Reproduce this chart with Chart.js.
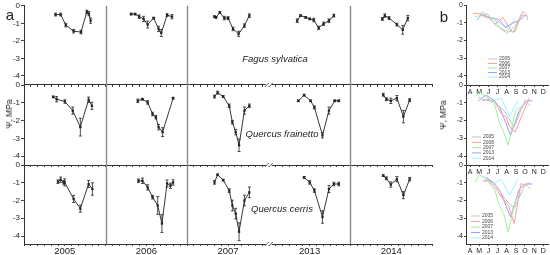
<!DOCTYPE html>
<html>
<head>
<meta charset="utf-8">
<script src="https://cdn.jsdelivr.net/npm/chart.js@4.4.0/dist/chart.umd.min.js"></script>
<style>
html, body { margin: 0; padding: 0; background: #fff; }
#wrap { position: relative; width: 550px; height: 255px; overflow: hidden; font-family: "Liberation Sans", Arial, sans-serif; color: #222; }
#wrap canvas { position: absolute; left: 0; top: 0; }
.lbl { position: absolute; white-space: nowrap; transform: translate(-50%, -50%); }
.sp { font-style: italic; font-size: 9.5px; color: #222; }
.ax { font-size: 8.5px; transform: translate(-50%, -50%) rotate(-90deg); }
</style>
</head>
<body>
<div id="wrap">
  <canvas id="a1" width="550" height="255"></canvas>
  <canvas id="a2" width="550" height="255"></canvas>
  <canvas id="a3" width="550" height="255"></canvas>
  <canvas id="b1" width="550" height="255"></canvas>
  <canvas id="b2" width="550" height="255"></canvas>
  <canvas id="b3" width="550" height="255"></canvas>
  <div class="lbl" style="left:10px;top:14px;font-size:15px">a</div>
  <div class="lbl" style="left:444px;top:16px;font-size:15px">b</div>
  <div class="lbl ax" style="left:9px;top:114px">Ψ, MPa</div>
  <div class="lbl ax" style="left:443px;top:115px">Ψ, MPa</div>
  <div class="lbl sp" style="left:275px;top:58px">Fagus sylvatica</div>
  <div class="lbl sp" style="left:282px;top:133px">Quercus frainetto</div>
  <div class="lbl sp" style="left:282px;top:208px">Quercus cerris</div>
</div>
<script>
// ── données ─────────────────────────────────────────────
const YEARS = ['2005', '2006', '2007', '2013', '2014'];
const MONTHS = ['A', 'M', 'J', 'J', 'A', 'S', 'O', 'N', 'D'];
const MONTH_MID = [105, 135, 166, 196, 227, 258, 288, 319, 349];
const Y_TICKS = [0, -1, -2, -3, -4];
const YEAR_COLORS = ['#c4c4c4', '#ff9c9c', '#9ef09e', '#9c9cff', '#9cf2ff'];

// Fagus sylvatica (jour de l'année, Ψ, erreur)
const fagusDays = [
  [141, 164, 187, 222, 255, 281, 290, 298],
  [114, 132, 150, 170, 188, 215, 237, 249, 275, 297],
  [122, 129, 146, 166, 183, 205, 230, 256, 278],
  [127, 142, 165, 183, 201, 223, 245, 269, 291],
  [143, 154, 173, 208, 234, 257]
];
const fagusPsi = [
  [-0.5, -0.5, -1.1, -1.45, -1.5, -0.35, -0.45, -0.85],
  [-0.47, -0.47, -0.62, -0.75, -1.07, -0.7, -1.32, -1.55, -0.53, -0.62],
  [-0.62, -0.66, -0.38, -0.7, -0.7, -1.32, -1.6, -1.13, -0.56],
  [-0.85, -0.56, -0.66, -0.75, -0.81, -1.26, -1.03, -0.85, -0.56],
  [-0.75, -0.56, -0.7, -1.07, -1.37, -0.7]
];
const fagusErr = [
  [0.08, 0.08, 0.1, 0.1, 0.1, 0.1, 0.12, 0.15],
  [0.05, 0.05, 0.1, 0.15, 0.2, 0.05, 0.15, 0.2, 0.08, 0.12],
  [0.05, 0.05, 0.05, 0.1, 0.08, 0.1, 0.15, 0.1, 0.1],
  [0.1, 0.05, 0.05, 0.05, 0.1, 0.1, 0.1, 0.1, 0.08],
  [0.08, 0.1, 0.08, 0.08, 0.25, 0.15]
];

// Quercus frainetto
const frainettoDays = [
  [131, 146, 183, 218, 252, 289, 304],
  [144, 165, 188, 210, 225, 237, 255, 302],
  [122, 136, 161, 188, 202, 217, 232, 256, 278],
  [132, 158, 187, 204, 240, 269, 295, 313],
  [147, 161, 181, 208, 237, 265]
];
const frainettoPsi = [
  [-0.67, -0.8, -0.93, -1.44, -2.37, -0.83, -1.17],
  [-0.89, -0.8, -0.98, -1.63, -1.81, -2.37, -2.65, -0.74],
  [-0.65, -0.43, -0.65, -1.17, -2.09, -2.65, -3.39, -1.44, -1.17],
  [-0.89, -0.57, -0.89, -1.26, -2.83, -1.44, -0.89, -0.89],
  [-0.55, -0.8, -0.89, -0.74, -1.78, -0.85]
];
const frainettoErr = [
  [0.05, 0.15, 0.1, 0.2, 0.5, 0.15, 0.2],
  [0.1, 0.05, 0.1, 0.1, 0.1, 0.15, 0.25, 0.05],
  [0.08, 0.08, 0.05, 0.1, 0.1, 0.15, 0.35, 0.2, 0.1],
  [0.05, 0.05, 0.05, 0.08, 0.15, 0.2, 0.05, 0.05],
  [0.08, 0.08, 0.15, 0.15, 0.35, 0.08]
];

// Quercus cerris
const cerrisDays = [
  [152, 164, 177, 182, 222, 252, 289, 306],
  [147, 165, 188, 210, 233, 252, 275, 290, 302],
  [122, 136, 161, 188, 202, 217, 232, 256, 278],
  [158, 183, 204, 240, 269, 291, 313],
  [147, 161, 181, 208, 237, 265]
];
const cerrisPsi = [
  [-0.94, -0.83, -0.98, -0.98, -1.91, -2.46, -1.07, -1.35],
  [-0.89, -0.89, -1.26, -1.81, -2.28, -3.3, -1.04, -1.17, -0.98],
  [-0.98, -0.55, -0.85, -1.44, -2.28, -2.74, -3.76, -2.0, -1.54],
  [-0.7, -0.98, -1.44, -2.93, -1.35, -1.07, -1.07],
  [-0.6, -0.75, -1.1, -0.8, -1.7, -0.8]
];
const cerrisErr = [
  [0.1, 0.15, 0.1, 0.2, 0.2, 0.2, 0.2, 0.35],
  [0.1, 0.15, 0.15, 0.1, 0.5, 0.5, 0.2, 0.15, 0.15],
  [0.1, 0.05, 0.05, 0.1, 0.3, 0.3, 0.5, 0.3, 0.3],
  [0.05, 0.1, 0.1, 0.35, 0.2, 0.1, 0.1],
  [0.05, 0.08, 0.15, 0.15, 0.2, 0.1]
];

const FONT = '"Liberation Sans", Arial, sans-serif';
const INK = '#222';
const SEPARATORS = [1, 2, 4].map(i => i * 365);
const BREAK_AT = 3 * 365;

// ── plugins ──────────────────────────────────────────────
const errorBars = {
  id: 'errorBars',
  afterDatasetsDraw(chart) {
    const ctx = chart.ctx, y = chart.scales.y;
    ctx.save();
    ctx.strokeStyle = INK;
    ctx.lineWidth = 0.8;
    chart.data.datasets.forEach((ds, i) => {
      if (!ds.errors) return;
      chart.getDatasetMeta(i).data.forEach((pt, j) => {
        const v = ds.data[j].y, e = ds.errors[j];
        const y1 = y.getPixelForValue(v - e), y2 = y.getPixelForValue(v + e);
        ctx.beginPath();
        ctx.moveTo(pt.x, y1); ctx.lineTo(pt.x, y2);
        ctx.moveTo(pt.x - 1.5, y1); ctx.lineTo(pt.x + 1.5, y1);
        ctx.moveTo(pt.x - 1.5, y2); ctx.lineTo(pt.x + 1.5, y2);
        ctx.stroke();
      });
    });
    ctx.restore();
  }
};

const blockDecor = {
  id: 'blockDecor',
  afterDraw(chart) {
    const { ctx, chartArea: a, scales: { x } } = chart;
    ctx.save();
    ctx.strokeStyle = '#8a8a8a';
    ctx.lineWidth = 1.4;
    SEPARATORS.forEach(v => {
      const px = Math.round(x.getPixelForValue(v)) + 0.5;
      ctx.beginPath(); ctx.moveTo(px, a.top); ctx.lineTo(px, a.bottom); ctx.stroke();
    });
    // coupure d'axe
    const bx = x.getPixelForValue(BREAK_AT);
    ctx.fillStyle = '#fff';
    ctx.fillRect(bx - 3, a.bottom - 1.5, 6, 3);
    ctx.strokeStyle = '#333';
    ctx.lineWidth = 0.8;
    [-2, 2].forEach(o => {
      ctx.beginPath(); ctx.moveTo(bx + o - 2, a.bottom + 2); ctx.lineTo(bx + o + 2, a.bottom - 2); ctx.stroke();
    });
    ctx.restore();
  }
};

const yearLegend = {
  id: 'yearLegend',
  afterDraw(chart, args, opts) {
    const ctx = chart.ctx;
    ctx.save();
    ctx.font = '5px ' + FONT;
    ctx.textBaseline = 'middle';
    chart.data.datasets.forEach((ds, i) => {
      const y = opts.y + i * opts.step;
      ctx.strokeStyle = ds.borderColor;
      ctx.lineWidth = 1;
      ctx.beginPath(); ctx.moveTo(opts.x, y); ctx.lineTo(opts.x + 9, y); ctx.stroke();
      ctx.fillStyle = '#444';
      ctx.fillText(ds.label, opts.x + 11, y);
    });
    ctx.restore();
  }
};

// ── panneau a ────────────────────────────────────────────
function panelA(id, days, psi, err, top, bottom, yMin, showYears) {
  const datasets = YEARS.map((yr, i) => ({
    label: yr,
    data: days[i].map((d, j) => ({ x: i * 365 + d, y: psi[i][j] })),
    errors: err[i],
    borderColor: INK,
    borderWidth: 0.9,
    pointStyle: 'rect',
    pointRadius: 1.6,
    pointBackgroundColor: INK,
    pointBorderWidth: 0,
    tension: 0
  }));
  const xh = 11; // hauteur de la boîte de l'axe x (les libellés y sont découpés)
  new Chart(document.getElementById(id), {
    type: 'line',
    data: { datasets },
    options: {
      responsive: false,
      animation: false,
      events: [],
      layout: { padding: { left: 2, right: 118, top: top, bottom: 255 - bottom - xh } },
      plugins: { legend: { display: false }, tooltip: { enabled: false } },
      scales: {
        x: {
          type: 'linear', min: 0, max: 5 * 365,
          afterBuildTicks: s => { s.ticks = []; for (let i = 0; i <= 60; i++) s.ticks.push({ value: i * 365 / 12 }); },
          afterFit: s => { s.height = xh; },
          ticks: {
            autoSkip: false, maxRotation: 0, padding: 0,
            font: { size: 9.5, family: FONT }, color: INK,
            callback: (v, i) => (showYears && i % 12 === 6) ? YEARS[(i - 6) / 12] : ''
          },
          grid: { drawOnChartArea: false, tickLength: 2, color: '#444' },
          border: { color: '#333', width: 1 }
        },
        y: {
          min: yMin, max: 0,
          afterBuildTicks: s => { s.ticks = Y_TICKS.map(v => ({ value: v })); },
          afterFit: s => { s.width = 22; },
          ticks: { font: { size: 8, family: FONT }, color: INK, padding: 1 },
          grid: { drawOnChartArea: false, tickLength: 3, color: '#444' },
          border: { color: '#333', width: 1 }
        }
      }
    },
    plugins: [errorBars, blockDecor]
  });
}

// ── panneau b ────────────────────────────────────────────
function panelB(id, days, psi, top, bottom, yMin, leg) {
  const datasets = YEARS.map((yr, i) => ({
    label: yr,
    data: days[i].map((d, j) => ({ x: d, y: psi[i][j] })),
    borderColor: YEAR_COLORS[i],
    borderWidth: 1,
    pointRadius: 0,
    tension: 0
  }));
  const xh = 11;
  new Chart(document.getElementById(id), {
    type: 'line',
    data: { datasets },
    options: {
      responsive: false,
      animation: false,
      events: [],
      layout: { padding: { left: 454, right: 2, top: top, bottom: 255 - bottom - xh } },
      plugins: { legend: { display: false }, tooltip: { enabled: false }, yearLegend: leg },
      scales: {
        x: {
          type: 'linear', min: 91, max: 365,
          afterBuildTicks: s => { s.ticks = MONTH_MID.map(v => ({ value: v })); },
          afterFit: s => { s.height = xh; },
          ticks: {
            autoSkip: false, maxRotation: 0, padding: 1,
            font: { size: 7, family: FONT }, color: INK,
            callback: (v, i) => MONTHS[i]
          },
          grid: { drawOnChartArea: false, tickLength: 2, color: '#444' },
          border: { color: '#333', width: 1 }
        },
        y: {
          min: yMin, max: 0,
          afterBuildTicks: s => { s.ticks = Y_TICKS.map(v => ({ value: v })); },
          afterFit: s => { s.width = 12; },
          ticks: { font: { size: 7, family: FONT }, color: INK, padding: 1 },
          grid: { drawOnChartArea: false, tickLength: 2, color: '#444' },
          border: { color: '#333', width: 1 }
        }
      }
    },
    plugins: [yearLegend]
  });
}

panelA('a1', fagusDays, fagusPsi, fagusErr, 5, 85, -4.52, false);
panelA('a2', frainettoDays, frainettoPsi, frainettoErr, 85, 165, -4.5, false);
panelA('a3', cerrisDays, cerrisPsi, cerrisErr, 165, 244, -4.45, true);

panelB('b1', fagusDays, fagusPsi, 5, 85, -4.52, { x: 488, y: 59, step: 4.5 });
panelB('b2', frainettoDays, frainettoPsi, 85, 165, -4.5, { x: 472, y: 137, step: 5.3 });
panelB('b3', cerrisDays, cerrisPsi, 165, 244, -4.45, { x: 471, y: 216, step: 5.5 });
</script>
</body>
</html>
